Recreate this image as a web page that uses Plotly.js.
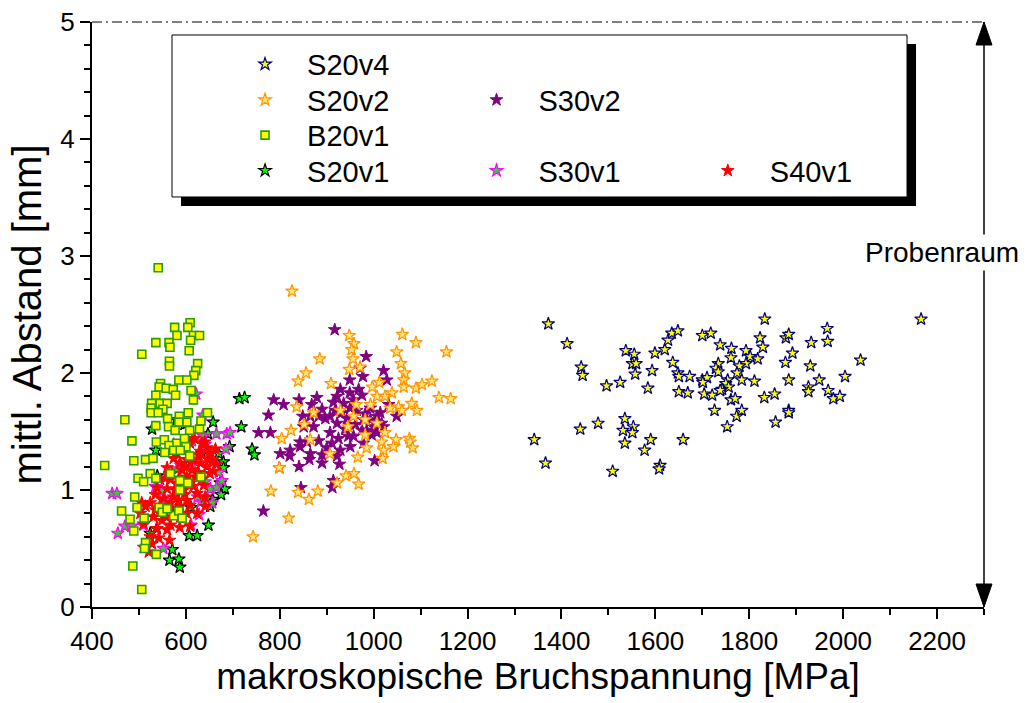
<!DOCTYPE html>
<html><head><meta charset="utf-8">
<script src="https://cdn.plot.ly/plotly-3.0.1.min.js"></script>
<style>html,body{margin:0;padding:0;background:#fff;} #chart{width:1027px;height:703px;}</style>
</head><body><div id="chart"></div>
<script>
// ---- data ----
const s20v4_x = [1372,1412,1442,1445,1496,1525,1537,1555,1551,1559,1557,1584,1593,1599,1620,1627,1635,1648,1637,1648,1650,1673,1650,1669,1700,1718,1700,1710,1701,1704,1721,1738,1734,1729,1734,1762,1761,1754,1750,1756,1742,1738,1761,1770,1793,1802,1793,1779,1774,1784,1818,1811,1823,1833,1829,1832,1854,1726,1753,1773,1784,1856,1878,1884,1892,1877,1884,1884,1884,1932,1966,1967,1930,1949,1926,1926,1968,1979,1993,2004,2037,1342,1366,1440,1478,1535,1531,1553,1551,1535,1509,1577,1590,1610,1608,1659,2166];
const s20v4_y = [2.42,2.25,2.05,1.98,1.89,1.92,2.19,2.16,2.08,2.08,1.99,1.87,2.02,2.17,2.20,2.28,2.34,2.36,2.09,2.00,1.97,1.97,1.84,1.83,2.32,2.34,1.94,1.96,1.92,1.82,1.81,2.24,2.08,2.04,2.01,2.21,2.13,1.94,1.91,1.88,1.86,1.85,1.77,1.78,2.19,2.14,2.08,2.06,2.00,1.94,2.12,1.93,2.30,2.46,2.22,1.79,1.82,1.68,1.54,1.63,1.68,1.58,2.30,2.33,2.17,2.09,1.94,1.68,1.66,2.26,2.38,2.27,2.06,1.94,1.88,1.84,1.85,1.78,1.80,1.97,2.11,1.43,1.23,1.52,1.57,1.61,1.51,1.54,1.49,1.40,1.16,1.34,1.43,1.21,1.18,1.43,2.46];

const s20v2_x = [826,948,958,953,956,885,856,839,909,948,971,1061,1090,1155,1049,1058,1066,1064,1064,1090,1103,1124,1139,1164,997,1012,1039,1007,1024,993,1053,1081,1092,1060,957,963,872,836,852,824,804,865,945,982,1024,1048,1076,1078,1083,1042,1017,1021,1019,985,966,907,799,941,958,968,922,881,839,862,781,819,982,1007,929,1035,743];
const s20v2_y = [2.70,2.32,2.25,2.20,2.12,2.12,2.00,1.93,1.91,2.03,2.05,2.33,2.26,2.18,2.18,2.08,2.00,1.94,1.88,1.87,1.90,1.93,1.79,1.78,1.88,1.92,1.83,1.80,1.80,1.73,1.71,1.74,1.68,1.68,1.63,1.73,1.66,1.71,1.56,1.51,1.44,1.43,1.54,1.47,1.49,1.43,1.44,1.41,1.36,1.37,1.41,1.34,1.27,1.36,1.28,1.31,1.19,1.12,1.14,1.05,1.06,0.99,0.98,0.92,0.99,0.76,1.60,1.57,1.68,1.70,0.60];

const b20v1_x = [541,609,604,576,581,616,629,610,536,564,566,607,506,565,565,625,621,617,585,602,546,543,558,573,611,536,578,616,527,545,560,551,526,526,541,605,646,586,561,470,632,602,536,563,585,577,608,629,554,537,580,597,485,564,600,574,588,555,514,530,489,427,608,524,536,567,632,498,510,587,604,587,491,496,543,463,550,481,511,574,585,592,560,489,514,512,537,487,506];
const b20v1_y = [2.90,2.43,2.39,2.39,2.32,2.32,2.32,2.28,2.26,2.26,2.22,2.19,2.16,2.10,2.06,2.08,2.02,1.98,1.94,1.94,1.91,1.88,1.87,1.86,1.85,1.81,1.81,1.77,1.74,1.74,1.74,1.69,1.70,1.66,1.66,1.66,1.66,1.63,1.61,1.60,1.59,1.58,1.55,1.54,1.58,1.51,1.51,1.52,1.43,1.41,1.40,1.44,1.42,1.38,1.37,1.34,1.34,1.32,1.26,1.27,1.25,1.21,1.29,1.14,1.10,1.14,1.11,1.10,1.07,1.08,1.06,1.00,0.94,0.85,0.85,0.82,0.81,0.75,0.76,0.78,0.82,0.76,0.84,0.65,0.55,0.50,0.45,0.35,0.15];

const s20v1_x = [714,725,718,741,746,658,528,647,693,536,670,680,680,673,683,675,657,648,607,624,538,571,565,585,587,567,580,588,539,645,652,524,611,634,597,592];
const s20v1_y = [1.78,1.79,1.54,1.35,1.30,1.58,1.52,1.48,1.37,1.34,1.31,1.24,1.19,1.06,1.01,0.96,0.92,0.70,0.61,0.61,0.67,0.49,0.40,0.41,0.34,0.84,1.60,1.57,1.12,0.93,0.86,0.63,0.85,1.31,1.56,1.02];

const s30v2_x = [917,984,971,977,1021,1028,949,968,975,949,922,914,936,957,787,808,841,879,868,890,776,849,865,897,872,851,918,932,922,943,982,993,1007,1017,1000,1032,1049,1007,985,961,939,907,925,946,911,900,929,950,978,883,843,822,801,780,755,843,865,821,863,890,922,927,890,841,799,1002,914,912,845,765,978,993,907,883,950,964,996,929,975,1014,858,957,1021];
const s30v2_y = [2.37,2.14,2.04,1.97,2.02,1.94,1.94,1.86,1.81,1.83,1.80,1.75,1.74,1.77,1.77,1.73,1.77,1.79,1.73,1.69,1.64,1.63,1.63,1.61,1.54,1.54,1.68,1.66,1.57,1.61,1.65,1.60,1.63,1.57,1.54,1.73,1.63,1.49,1.51,1.56,1.52,1.49,1.44,1.46,1.40,1.36,1.34,1.37,1.40,1.42,1.41,1.34,1.31,1.49,1.49,1.37,1.31,1.29,1.26,1.30,1.29,1.22,1.23,1.20,1.19,1.25,1.08,1.02,1.02,0.82,1.60,1.70,1.63,1.63,1.70,1.68,1.47,1.86,1.51,1.66,1.41,1.46,1.54];

const s30v1_x = [622,636,665,687,685,443,453,470,455,484,552,611,628,656,677,641,670,649,589,581,597,556,613,574,632,652,625,535,637,665,641,509,613,549,694];
const s30v1_y = [1.82,1.64,1.48,1.48,1.35,0.97,0.97,0.69,0.63,0.69,0.50,0.70,0.79,0.89,1.08,1.07,1.15,1.26,1.21,1.18,1.35,0.91,1.42,1.39,0.90,1.01,0.94,1.03,1.46,1.02,1.39,0.70,1.23,0.99,1.49];

const s40v1_x = [618,640,631,653,658,663,574,587,602,616,631,645,556,570,613,627,651,602,538,560,581,595,616,638,535,553,574,602,624,524,514,545,563,588,609,503,531,549,567,587,510,524,542,565,521,510,528,645,665,592,581,597,641,624,602,558,567,545,609,634,577,585,620,659,627,535,567,560,538,609,641,506,588,599,645,634,609,560,585];
const s40v1_y = [1.44,1.41,1.33,1.31,1.26,1.35,1.27,1.23,1.26,1.25,1.23,1.20,1.10,1.14,1.17,1.15,1.14,1.11,1.02,1.01,1.06,1.00,1.03,1.04,0.96,0.93,0.94,0.91,0.97,0.89,0.86,0.87,0.83,0.86,0.87,0.80,0.77,0.74,0.70,0.68,0.71,0.60,0.59,0.57,0.47,0.51,0.54,1.27,1.22,1.17,1.31,0.96,0.94,0.80,0.80,0.77,1.09,1.09,1.06,1.09,1.00,0.91,1.11,1.16,1.30,0.83,0.89,0.66,0.67,0.69,0.86,0.89,0.77,1.20,1.36,1.40,1.40,1.19,1.10];

const xTitle = 'makroskopische Bruchspannung [MPa]';
const yTitle = 'mittl. Abstand [mm]';
const regionLabel = 'Probenraum';

// ---- styling ----
const FONT = 'Liberation Sans, Arial, Helvetica, sans-serif';
function tr(name, xs, ys, legendId, symbol, size, fill, lineColor, lw) {
  return {type:'scatter', mode:'markers', name:name, x:xs, y:ys, legend:legendId,
    marker:{symbol:symbol, size:size, color:fill, line:{color:lineColor, width:lw}},
    hoverinfo:'x+y+name'};
}
const data = [
  tr('S20v4', s20v4_x, s20v4_y, 'legend',  'star',   9.5, '#FFFF00', '#000080', 1.2),
  tr('S30v2', s30v2_x, s30v2_y, 'legend5', 'star',   9.5, '#800080', '#800080', 1.0),
  tr('S20v2', s20v2_x, s20v2_y, 'legend2', 'star',   9.5, '#FFE27A', '#FF9400', 1.2),
  tr('S20v1', s20v1_x, s20v1_y, 'legend4', 'star',   9.5, '#00FF00', '#000000', 1.2),
  tr('S30v1', s30v1_x, s30v1_y, 'legend6', 'star',   9.5, '#33CC33', '#FF00FF', 1.2),
  tr('S40v1', s40v1_x, s40v1_y, 'legend7', 'star',   9.5, '#FF0000', '#FF0000', 1.0),
  tr('B20v1', b20v1_x, b20v1_y, 'legend3', 'square',  8, '#FFFF00', '#2E9A00', 1.6)
];

function leg(x, y) {
  return {x:x, y:y, xanchor:'left', yanchor:'middle', bgcolor:'rgba(0,0,0,0)', borderwidth:0,
    font:{family:FONT, size:29, color:'#000'}, itemwidth:74, itemclick:false, itemdoubleclick:false};
}
const c1 = 0.1469, c2 = 0.4064, c3 = 0.6657;
const r1 = 0.9277, r2 = 0.8667, r3 = 0.8063, r4 = 0.7458;

const layout = {
  width:1027, height:703,
  margin:{l:92, r:43, t:22, b:96, pad:0},
  paper_bgcolor:'#fff', plot_bgcolor:'#fff',
  font:{family:FONT, color:'#000'},
  showlegend:true,
  legend: leg(c1, r1), legend2: leg(c1, r2), legend3: leg(c1, r3), legend4: leg(c1, r4),
  legend5: leg(c2, r2), legend6: leg(c2, r4), legend7: leg(c3, r4),
  xaxis:{range:[400,2300], tick0:400, dtick:200, showgrid:false, zeroline:false,
    showline:true, linecolor:'#000', linewidth:2, ticks:'outside', ticklen:10, tickwidth:2, tickcolor:'#000',
    minor:{dtick:100, ticks:'outside', ticklen:6, tickwidth:1.5, tickcolor:'#000', showgrid:false},
    tickfont:{family:FONT, size:26, color:'#000'},
    title:{text:xTitle, font:{family:FONT, size:37, color:'#000'}, standoff:8}},
  yaxis:{range:[0,5], tick0:0, dtick:1, showgrid:false, zeroline:false,
    showline:true, linecolor:'#000', linewidth:2, ticks:'outside', ticklen:10, tickwidth:2, tickcolor:'#000',
    minor:{dtick:0.2, ticks:'outside', ticklen:6, tickwidth:1.5, tickcolor:'#000', showgrid:false},
    tickfont:{family:FONT, size:26, color:'#000'},
    title:{text:yTitle, font:{family:FONT, size:40, color:'#000'}, standoff:6}},
  shapes:[
    {type:'line', xref:'paper', yref:'paper', x0:0, x1:1, y0:1, y1:1, line:{color:'#000', width:1.2, dash:'10px,4px,2px,4px'}},
    {type:'line', xref:'paper', yref:'paper', x0:1, x1:1, y0:0, y1:1, line:{color:'#000', width:1.5}},
    {type:'path', xref:'paper', yref:'paper', xsizemode:'pixel', ysizemode:'pixel', xanchor:1, yanchor:1,
      path:'M0,0L-8,-23L8,-23Z', fillcolor:'#000', line:{color:'#000', width:1}},
    {type:'path', xref:'paper', yref:'paper', xsizemode:'pixel', ysizemode:'pixel', xanchor:1, yanchor:0,
      path:'M0,0L-8,23L8,23Z', fillcolor:'#000', line:{color:'#000', width:1}},
    {type:'rect', xref:'paper', yref:'paper', x0:0.0998, x1:0.9238, y0:0.6855, y1:0.9624, fillcolor:'#000', line:{width:0}, layer:'above'},
    {type:'rect', xref:'paper', yref:'paper', x0:0.0897, x1:0.9137, y0:0.7009, y1:0.9778, fillcolor:'#fff', line:{color:'#000', width:1}, layer:'above'}
  ],
  annotations:[
    {xref:'paper', yref:'y', x:1, y:3.03, xanchor:'center', yanchor:'middle', xshift:-42, showarrow:false,
     text:regionLabel, bgcolor:'#fff', borderpad:2, font:{family:FONT, size:28, color:'#000'}}
  ]
};
Plotly.newPlot('chart', data, layout, {displayModeBar:false, staticPlot:false});
</script></body></html>
